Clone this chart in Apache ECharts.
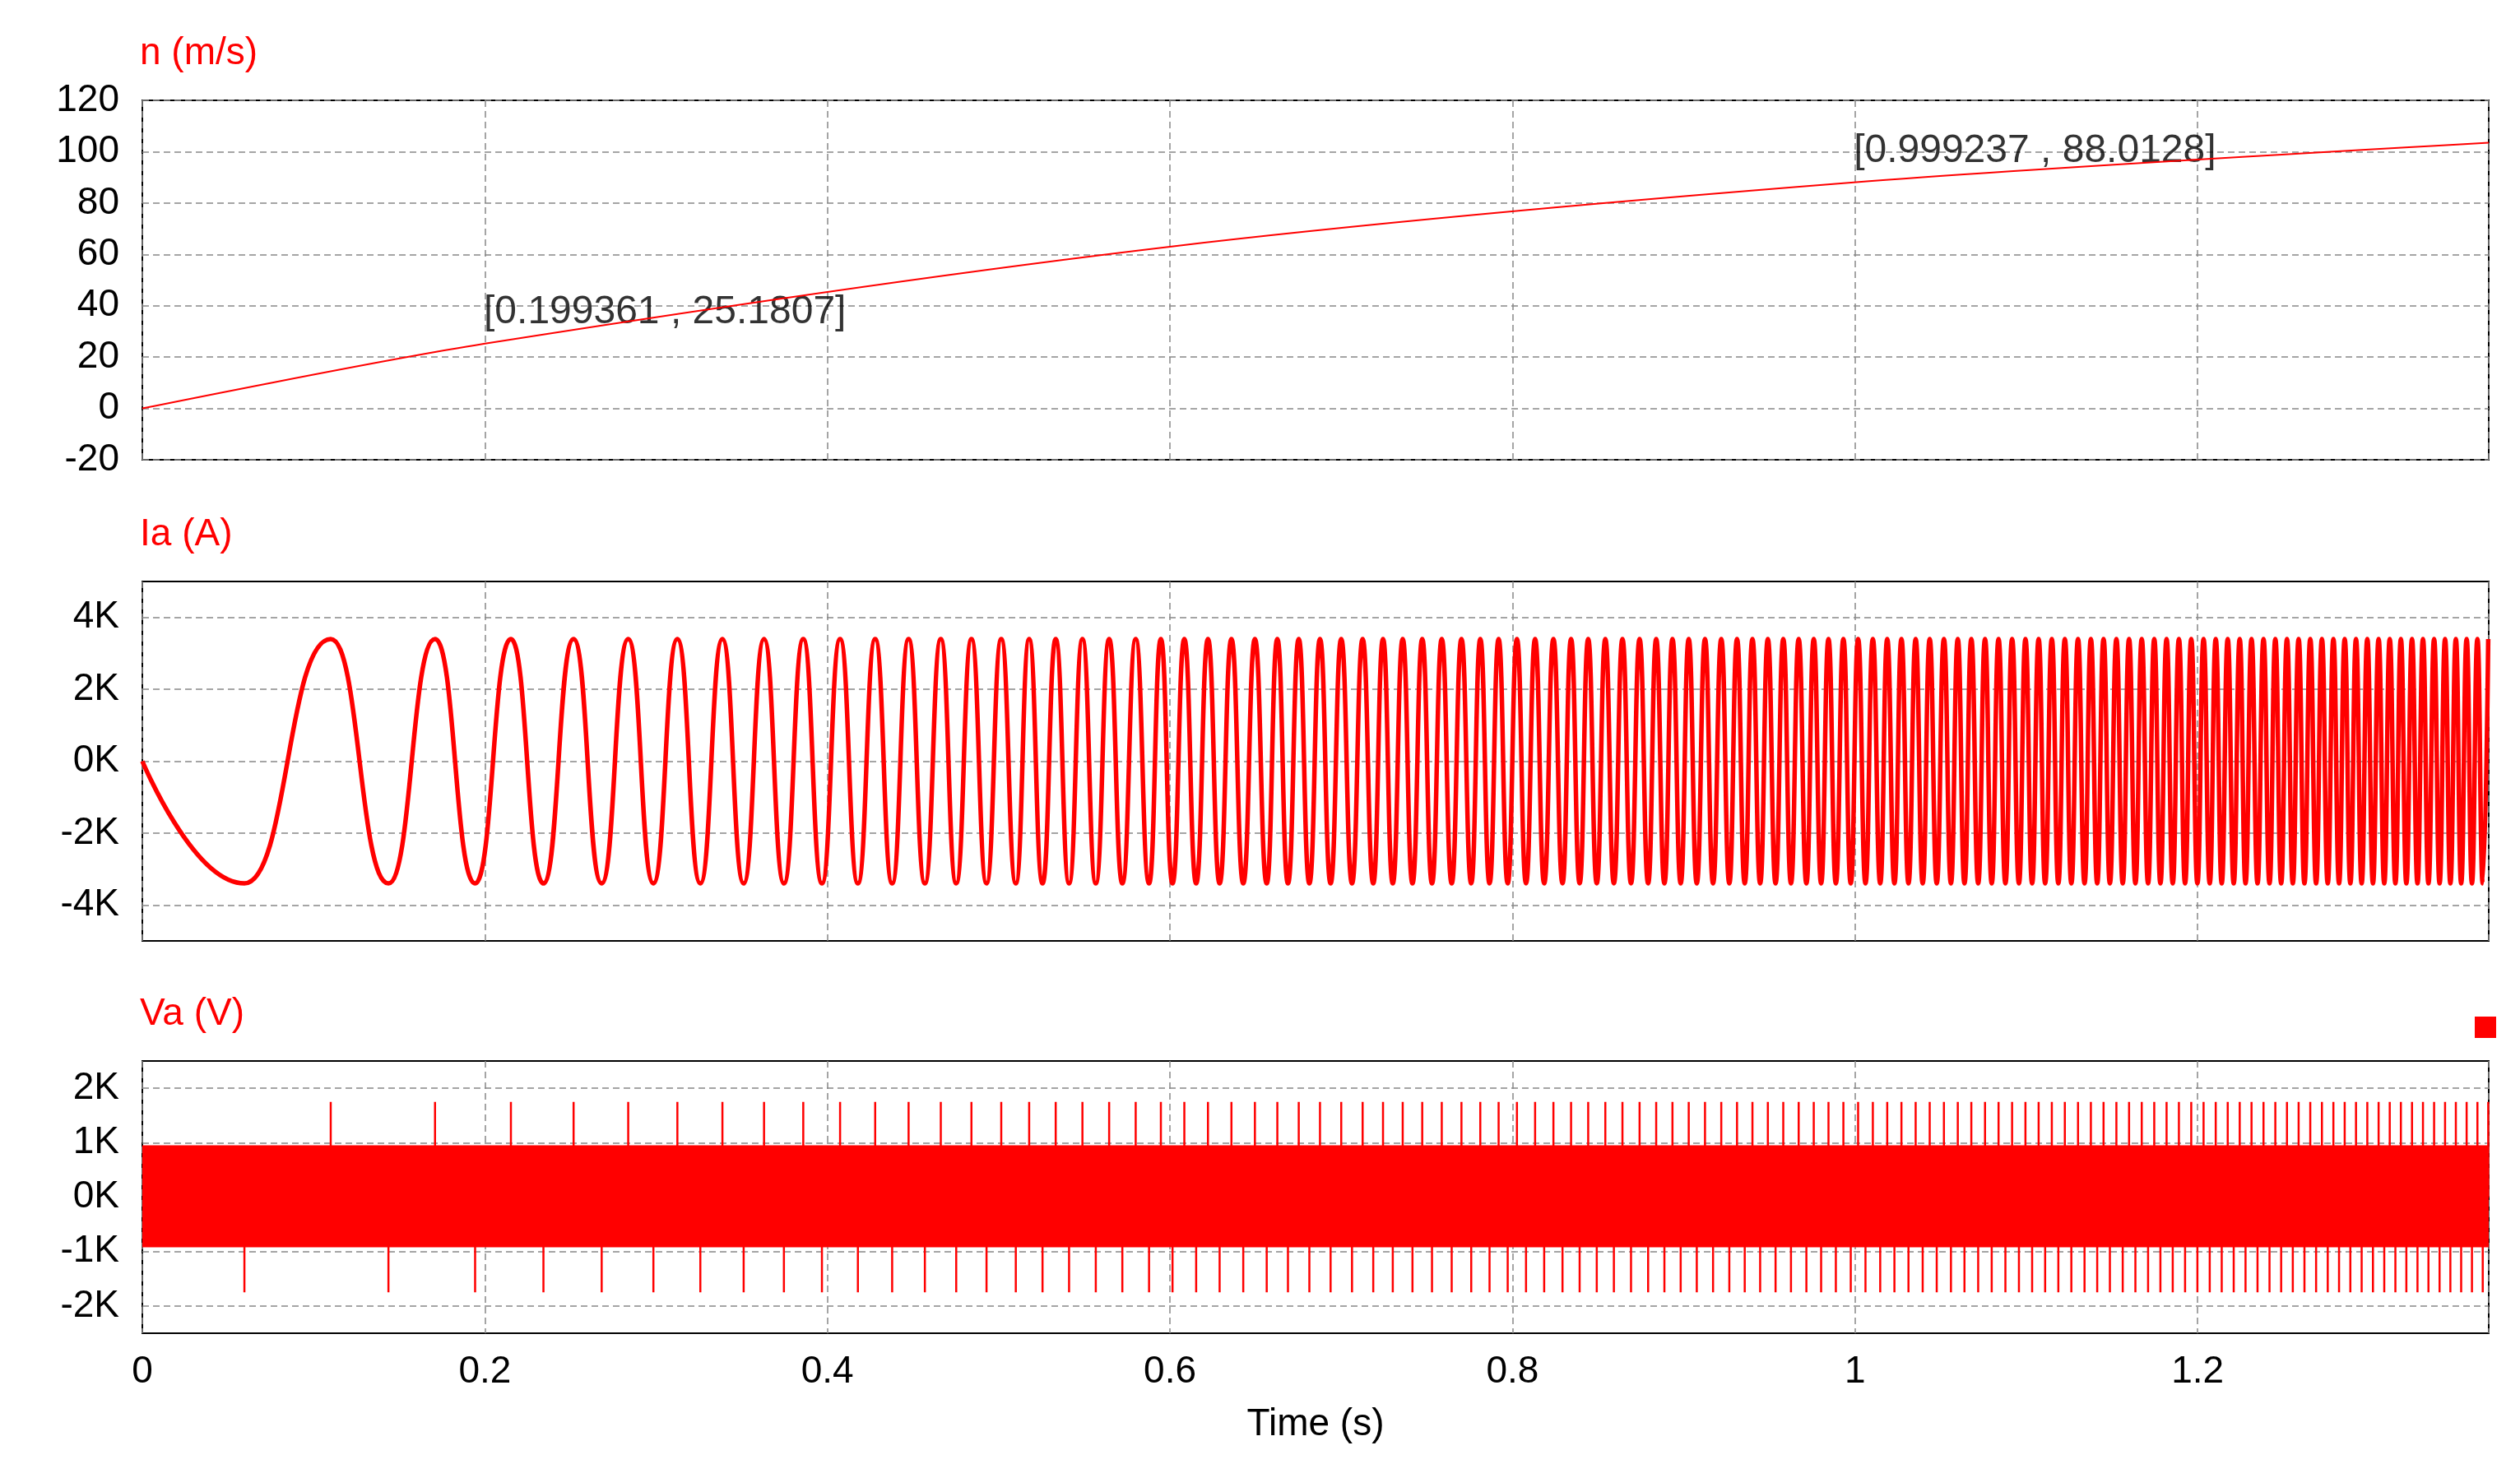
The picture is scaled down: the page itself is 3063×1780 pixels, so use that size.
<!DOCTYPE html>
<html>
<head>
<meta charset="utf-8">
<script src="https://cdn.jsdelivr.net/npm/echarts@6/dist/echarts.min.js"></script>
<style>html,body{margin:0;padding:0;background:#fff}#c{width:3063px;height:1780px}</style>
</head>
<body>
<div id="c"></div>
<script>
// speed n (m/s)
var speedPts = [[0, 0], [0.199361, 25.1807], [0.6, 63], [0.999237, 88.0128], [1.37, 103.5]];
var cursorPts = [[0.199361, 25.1807], [0.999237, 88.0128]];

// Ia: times of successive current extrema (trough, peak, trough, ...)
var iaExtTimes = [
  .0596,.1100,.1437,.1709,.1943,.2152,.2342,.2518,.2682,.2837,
  .2984,.3124,.3258,.3387,.3511,.3630,.3746,.3859,.3968,.4074,
  .4178,.4279,.4378,.4474,.4569,.4662,.4752,.4841,.4929,.5015,
  .5100,.5178,.5256,.5333,.5411,.5489,.5567,.5645,.5722,.5800,
  .5878,.5947,.6015,.6084,.6153,.6222,.6290,.6359,.6428,.6496,
  .6565,.6627,.6689,.6752,.6814,.6876,.6938,.7000,.7063,.7125,
  .7187,.7244,.7301,.7359,.7416,.7473,.7530,.7587,.7645,.7702,
  .7759,.7812,.7866,.7919,.7972,.8026,.8079,.8132,.8185,.8239,
  .8292,.8342,.8392,.8442,.8492,.8542,.8592,.8642,.8692,.8742,
  .8792,.8839,.8887,.8934,.8982,.9029,.9076,.9124,.9171,.9219,
  .9266,.9311,.9356,.9401,.9446,.9491,.9536,.9581,.9626,.9671,
  .9716,.9759,.9802,.9845,.9888,.9932,.9975,1.0018,1.0061,1.0104,
  1.0147,1.0188,1.0230,1.0271,1.0312,1.0354,1.0395,1.0436,1.0477,1.0519,
  1.0560,1.0600,1.0639,1.0679,1.0719,1.0759,1.0798,1.0838,1.0878,1.0917,
  1.0957,1.0995,1.1034,1.1072,1.1110,1.1149,1.1187,1.1225,1.1263,1.1302,
  1.1340,1.1377,1.1414,1.1451,1.1488,1.1526,1.1563,1.1600,1.1637,1.1674,
  1.1711,1.1747,1.1783,1.1819,1.1855,1.1891,1.1927,1.1963,1.1999,1.2035,
  1.2071,1.2106,1.2141,1.2176,1.2211,1.2246,1.2280,1.2315,1.2350,1.2385,
  1.2420,1.2454,1.2488,1.2522,1.2556,1.2590,1.2624,1.2658,1.2692,1.2726,
  1.2760,1.2793,1.2826,1.2859,1.2892,1.2925,1.2958,1.2991,1.3024,1.3057,
  1.3090,1.3122,1.3155,1.3187,1.3219,1.3252,1.3284,1.3316,1.3348,1.3381,
  1.3413,1.3445,1.3476,1.3508,1.3539,1.3571,1.3602,1.3634,1.3665,1.3697
];
var iaPeak = 3400, iaTrough = -3400;

// Va: PWM band and spike heights
var vaBandTop = 950, vaBandBottom = -920;
var vaSpikeUp = 1750, vaSpikeDown = -1750;

var xTicks = [0, 0.2, 0.4, 0.6, 0.8, 1, 1.2];

var iaData = [[0, 0]];
var vaData = [];
for (var i = 0; i < iaExtTimes.length; i++) {
  var t = iaExtTimes[i];
  var up = i % 2 === 1;
  iaData.push([t, up ? iaPeak : iaTrough]);
  vaData.push([t, 0], [t, up ? vaSpikeUp : vaSpikeDown], [t, 0]);
}

var RED = '#ff0000';
var FONT = 'Liberation Sans';
var grids = [
  {left: 173, right: 38, top: 122, height: 437},
  {left: 173, right: 38, top: 707, height: 437},
  {left: 173, right: 38, top: 1290, height: 331}
];
grids.forEach(function (g) { g.show = true; g.borderColor = '#000'; g.borderWidth = 2; g.backgroundColor = '#fff'; });

function xAxis(idx, showLabel) {
  return {
    type: 'value', gridIndex: idx, min: 0, max: 1.37, interval: 0.2,
    axisLine: {show: false}, axisTick: {show: false},
    axisLabel: {show: showLabel, color: '#000', fontSize: 46, fontFamily: FONT, margin: 24,
      formatter: function (v) { return xTicks.indexOf(Math.round(v * 10) / 10) >= 0 ? String(Math.round(v * 10) / 10) : ''; }},
    splitLine: {show: true, lineStyle: {color: '#888', type: [8, 5], width: 1.5}},
    name: showLabel ? 'Time (s)' : '', nameLocation: 'middle', nameGap: 88,
    nameTextStyle: {color: '#000', fontSize: 46, fontFamily: FONT}
  };
}
function kFmt(step) {
  return function (v) { return v % step === 0 ? (v / 1000) + 'K' : ''; };
}
var ySplit = {show: true, lineStyle: {color: ['transparent', '#888'], type: [8, 5], width: 1.5}};

var option = {
  animation: false,
  grid: grids,
  xAxis: [xAxis(0, false), xAxis(1, false), xAxis(2, true)],
  yAxis: [
    {type: 'value', gridIndex: 0, min: -20, max: 120, interval: 20,
      axisLine: {show: false}, axisTick: {show: false},
      axisLabel: {color: '#000', fontSize: 46, fontFamily: FONT, margin: 28},
      splitLine: {show: true, lineStyle: {color: '#888', type: [8, 5], width: 1.5}}},
    {type: 'value', gridIndex: 1, min: -5000, max: 5000, interval: 1000,
      axisLine: {show: false}, axisTick: {show: false},
      axisLabel: {color: '#000', fontSize: 46, fontFamily: FONT, margin: 28, formatter: kFmt(2000)},
      splitLine: ySplit},
    {type: 'value', gridIndex: 2, min: -2500, max: 2500, interval: 500,
      axisLine: {show: false}, axisTick: {show: false},
      axisLabel: {color: '#000', fontSize: 46, fontFamily: FONT, margin: 28, formatter: kFmt(1000)},
      splitLine: ySplit}
  ],
  graphic: [
    {type: 'text', left: 170, top: 42, style: {text: 'n (m/s)', fill: RED, font: '46px "Liberation Sans"'}},
    {type: 'text', left: 170, top: 627, style: {text: 'Ia (A)', fill: RED, font: '46px "Liberation Sans"'}},
    {type: 'text', left: 170, top: 1210, style: {text: 'Va (V)', fill: RED, font: '46px "Liberation Sans"'}},
    {type: 'rect', left: 3008, top: 1236, shape: {width: 26, height: 26}, style: {fill: RED}}
  ],
  series: [
    {type: 'line', xAxisIndex: 0, yAxisIndex: 0, data: speedPts, smooth: 0.3, showSymbol: false,
      lineStyle: {color: RED, width: 2}},
    {type: 'scatter', xAxisIndex: 0, yAxisIndex: 0, data: cursorPts, symbolSize: 0,
      label: {show: true, position: 'right', distance: 0, offset: [0, -38], color: '#000', fontSize: 48, fontFamily: FONT,
        formatter: function (p) { return '[' + p.value[0] + ' , ' + p.value[1] + ']'; }}},
    {type: 'line', xAxisIndex: 1, yAxisIndex: 1, data: iaData, smooth: 0.5, smoothMonotone: 'x', showSymbol: false,
      lineStyle: {color: RED, width: 5.5}},
    {type: 'line', xAxisIndex: 2, yAxisIndex: 2, data: vaData, showSymbol: false,
      lineStyle: {color: RED, width: 2.5},
      markArea: {silent: true, itemStyle: {color: RED, opacity: 1},
        data: [[{coord: [0, vaBandBottom]}, {coord: [1.37, vaBandTop]}]]}}
  ]
};
echarts.init(document.getElementById('c')).setOption(option);
</script>
</body>
</html>
